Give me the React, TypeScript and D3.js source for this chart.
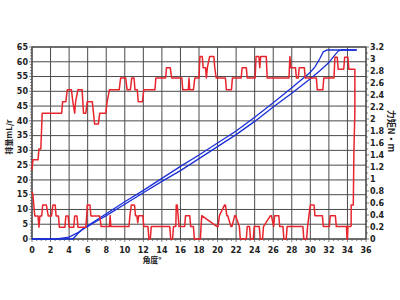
import React from "react";
import * as d3 from "d3";

const xTicks = d3.range(0, 37, 2);
const leftTicks = d3.range(0, 66, 5);
const rightTicks = d3.range(0, 17).map((i) => +(i * 0.2).toFixed(1));

// Upper red trace (left axis, mL/r)
const upperX = [0, 0.1, 0.65, 0.75, 0.95, 1.1, 3.2, 3.3, 3.65, 3.8, 4.25, 4.4, 4.6, 4.7, 4.95, 5.4, 5.55, 5.8, 5.95, 6.5, 6.75, 7.15, 7.3, 7.95, 8.1, 8.35, 9.4, 9.55, 10.1, 10.25, 10.6, 10.75, 11.0, 11.1, 11.35, 11.45, 11.9, 12.05, 13.25, 13.35, 14.4, 14.5, 14.9, 15.05, 16.15, 16.25, 16.85, 16.92, 17.0, 17.4, 17.55, 18.0, 18.1, 18.35, 18.45, 18.7, 18.8, 18.9, 19.15, 19.6, 19.7, 19.85, 20.85, 20.95, 21.5, 21.6, 22.55, 22.65, 23.1, 23.2, 24.05, 24.15, 24.45, 24.55, 24.65, 25.25, 25.35, 27.7, 27.8, 27.9, 28.4, 28.5, 28.7, 28.8, 29.35, 29.45, 30.65, 30.75, 31.35, 31.45, 32.55, 32.65, 32.9, 33.0, 33.6, 33.7, 34.05, 34.15, 34.8, 34.8, 34.7, 34.63, 34.4, 34.4];
const upperY = [23.4, 26.8, 26.8, 30.5, 30.5, 42.6, 42.6, 46.5, 46.5, 50.5, 50.5, 46.5, 42.6, 46.5, 50.5, 50.5, 42.6, 42.6, 46.5, 46.5, 38.9, 38.9, 42.6, 42.6, 46.5, 50.5, 50.5, 54.5, 54.5, 50.5, 50.5, 54.5, 54.5, 50.5, 50.5, 46.5, 46.5, 50.5, 50.5, 54.5, 54.5, 58, 58, 54.5, 54.5, 50.5, 50.5, 54.5, 50.5, 50.5, 54.5, 54.5, 61.8, 61.8, 58, 58, 54.5, 58, 61.8, 61.8, 58, 54.5, 54.5, 50.5, 50.5, 54.5, 54.5, 58, 58, 54.5, 54.5, 61.8, 61.8, 58, 61.8, 61.8, 54.5, 54.5, 61.8, 58, 58, 54.5, 54.5, 58, 58, 54.5, 54.5, 50.5, 50.5, 54.5, 54.5, 61.5, 61.5, 57.5, 57.5, 61.5, 61.5, 57.5, 57.5, 43, 30, 11.5, 11.5, 4.2];

// Lower red trace (left axis, mL/r)
const lowerX = [0, 0.1, 0.3, 0.65, 0.75, 0.85, 1.05, 1.15, 1.55, 1.75, 2.1, 2.25, 2.5, 2.6, 2.85, 2.95, 3.55, 3.65, 3.9, 4.0, 4.5, 4.6, 4.85, 4.95, 5.8, 5.9, 5.95, 6.25, 6.35, 7.3, 7.45, 8.35, 8.42, 8.5, 10.45, 10.55, 10.7, 11.05, 11.15, 11.3, 11.4, 11.5, 11.95, 12.05, 12.5, 12.6, 12.75, 12.85, 14.85, 14.95, 15.15, 15.25, 15.5, 15.55, 15.65, 15.75, 15.85, 16.45, 16.55, 17.0, 17.1, 17.4, 17.5, 18.15, 18.22, 18.3, 19.95, 20.05, 20.2, 20.75, 20.85, 21.0, 21.1, 21.45, 21.55, 21.85, 21.95, 22.35, 22.45, 23.1, 23.2, 23.45, 23.55, 23.85, 23.95, 24.5, 24.6, 24.85, 24.95, 25.7, 25.8, 26.05, 26.15, 26.6, 26.7, 27.05, 27.15, 27.4, 27.5, 29.2, 29.3, 29.6, 29.7, 29.85, 30.0, 30.4, 30.5, 30.6, 31.3, 31.4, 32.05, 32.15, 32.7, 32.8, 33.9, 33.95, 34.0, 34.05, 34.4];
const lowerY = [16, 15, 7.8, 7.8, 4, 7.8, 7.8, 11.5, 11.5, 7.8, 7.8, 11.5, 11.5, 7.8, 7.8, 4, 4, 7.8, 7.8, 4, 4, 7.8, 7.8, 4, 4, 7.8, 11.5, 11.5, 7.8, 7.8, 4.2, 4.2, 7.9, 4.2, 4.2, 7.9, 11.5, 11.5, 7.9, 7.9, 5.5, 7.9, 7.9, 4.2, 4.2, 0, 0, 4.2, 4.2, 0, 0, 4.2, 4.2, 11.5, 11.5, 7.9, 4.2, 4.2, 7.9, 7.9, 4.2, 4.2, 0, 0, 4.2, 7.9, 4.2, 4.2, 7.9, 11.5, 11.5, 7.9, 7.9, 4.2, 4.2, 7.9, 7.9, 4.2, 0, 0, 4.2, 4.2, 0, 0, 4.2, 4.2, 0, 0, 4.2, 7.9, 7.9, 4.2, 7.9, 7.9, 4.2, 4.2, 0, 0, 4.2, 4.2, 0, 0, 4.2, 7.9, 11.5, 11.5, 7.9, 7.9, 7.9, 4.2, 4.2, 7.9, 7.9, 4.2, 4.2, 0, 0, 4.2, 4.2];

// Blue traces (right axis, N·m)
const blueAX = [0, 2.7, 4, 5, 6, 7, 8, 10, 12, 14, 16, 18, 20, 22, 24, 26, 28, 29, 30, 30.5, 31, 31.4, 31.8, 35];
const blueAY = [0, 0, 0.03, 0.11, 0.22, 0.32, 0.42, 0.62, 0.81, 1.01, 1.21, 1.4, 1.6, 1.8, 2.03, 2.27, 2.52, 2.65, 2.78, 2.87, 3.0, 3.12, 3.15, 3.15];
const blueBX = [0, 4.4, 5, 5.5, 6, 7, 8, 10, 12, 14, 16, 18, 20, 22, 24, 26, 28, 30, 31, 32, 32.5, 33, 33.3, 35];
const blueBY = [0, 0, 0.1, 0.17, 0.21, 0.3, 0.39, 0.58, 0.77, 0.96, 1.14, 1.34, 1.54, 1.74, 1.96, 2.2, 2.43, 2.67, 2.8, 2.94, 3.04, 3.13, 3.15, 3.15];

const W = 400;
const H = 300;
const L = 32, R = 366, T = 47, B = 239;

export default function App() {
  const x = d3.scaleLinear().domain([0, 36]).range([L, R]);
  const yL = d3.scaleLinear().domain([0, 65]).range([B, T]);
  const yR = d3.scaleLinear().domain([0, 3.2]).range([B, T]);

  const lineL = d3.line<[number, number]>().x((d) => x(d[0])).y((d) => yL(d[1]));
  const lineR = d3.line<[number, number]>().x((d) => x(d[0])).y((d) => yR(d[1]));
  const zip = (a: number[], b: number[]) => a.map((v, i) => [v, b[i]] as [number, number]);

  const grid = "#4a4a4a";
  const font = "DejaVu Sans, Verdana, sans-serif";
  const txt = "#222";

  const minorL = d3.range(0, 66, 1);
  const minorR = d3.range(0, 33, 1).map((i) => i * 0.1);
  const minorX = d3.range(0, 36.01, 0.5);

  return (
    <svg width={W} height={H} viewBox={`0 0 ${W} ${H}`} style={{ display: "block", position: "absolute", left: 0, top: 0, background: "#fff" }}>
      <rect x={0} y={0} width={W} height={H} fill="#fff" />
      {/* grid */}
      {xTicks.map((t) => (
        <line key={"gx" + t} x1={x(t)} x2={x(t)} y1={T} y2={B} stroke={grid} strokeWidth={1} />
      ))}
      {leftTicks.map((t) => (
        <line key={"gy" + t} x1={L} x2={R} y1={yL(t)} y2={yL(t)} stroke={grid} strokeWidth={1} />
      ))}
      {/* minor ticks */}
      {minorL.map((t) => (
        <line key={"ml" + t} x1={L - (t % 5 === 0 ? 3 : 2)} x2={L} y1={yL(t)} y2={yL(t)} stroke={grid} strokeWidth={0.7} />
      ))}
      {minorR.map((t, i) => (
        <line key={"mr" + i} x1={R} x2={R + (i % 2 === 0 ? 3 : 2)} y1={yR(t)} y2={yR(t)} stroke={grid} strokeWidth={0.7} />
      ))}
      {minorX.map((t, i) => (
        <line key={"mx" + i} x1={x(t)} x2={x(t)} y1={B} y2={B + (i % 4 === 0 ? 3 : 2)} stroke={grid} strokeWidth={0.7} />
      ))}
      {/* frame */}
      <rect x={L} y={T} width={R - L} height={B - T} fill="none" stroke={grid} strokeWidth={1.2} />

      {/* data */}
      <path d={lineR(zip(blueAX, blueAY)) || ""} fill="none" stroke="#1a2fd8" strokeWidth={1.3} />
      <path d={lineR(zip(blueBX, blueBY)) || ""} fill="none" stroke="#1a2fd8" strokeWidth={1.3} />
      <path d={lineL(zip(upperX, upperY)) || ""} fill="none" stroke="#e8252d" strokeWidth={1.5} strokeLinejoin="round" />
      <path d={lineL(zip(lowerX, lowerY)) || ""} fill="none" stroke="#e8252d" strokeWidth={1.5} strokeLinejoin="round" />

      {/* tick labels */}
      {leftTicks.map((t) => (
        <text key={"tl" + t} x={L - 4} y={yL(t)} dy="0.35em" textAnchor="end" fontSize={8} fontFamily={font} fontWeight="bold" fill={txt}>{t}</text>
      ))}
      {rightTicks.map((t) => (
        <text key={"tr" + t} x={R + 4} y={yR(t)} dy="0.35em" textAnchor="start" fontSize={8} fontFamily={font} fontWeight="bold" fill={txt}>{String(t)}</text>
      ))}
      {xTicks.map((t) => (
        <text key={"tx" + t} x={x(t)} y={B + 11} dy="0.35em" textAnchor="middle" fontSize={8} fontFamily={font} fontWeight="bold" fill={txt}>{t}</text>
      ))}
      {/* axis titles */}
      <text x={152} y={260} dy="0.35em" textAnchor="middle" fontSize={8} fontFamily="Noto Sans CJK SC, sans-serif" fontWeight="bold" fill={txt}>角度°</text>
      <text transform={`translate(9,137) rotate(-90)`} dy="0.35em" textAnchor="middle" fontSize={8} fontFamily="Noto Sans CJK SC, sans-serif" fontWeight="bold" fill={txt}>排量mL/r</text>
      <text transform={`translate(391,131) rotate(90)`} dy="0.35em" textAnchor="middle" fontSize={9} fontFamily="Noto Sans CJK SC, sans-serif" fontWeight="bold" fill={txt}>力矩N·m</text>
    </svg>
  );
}
